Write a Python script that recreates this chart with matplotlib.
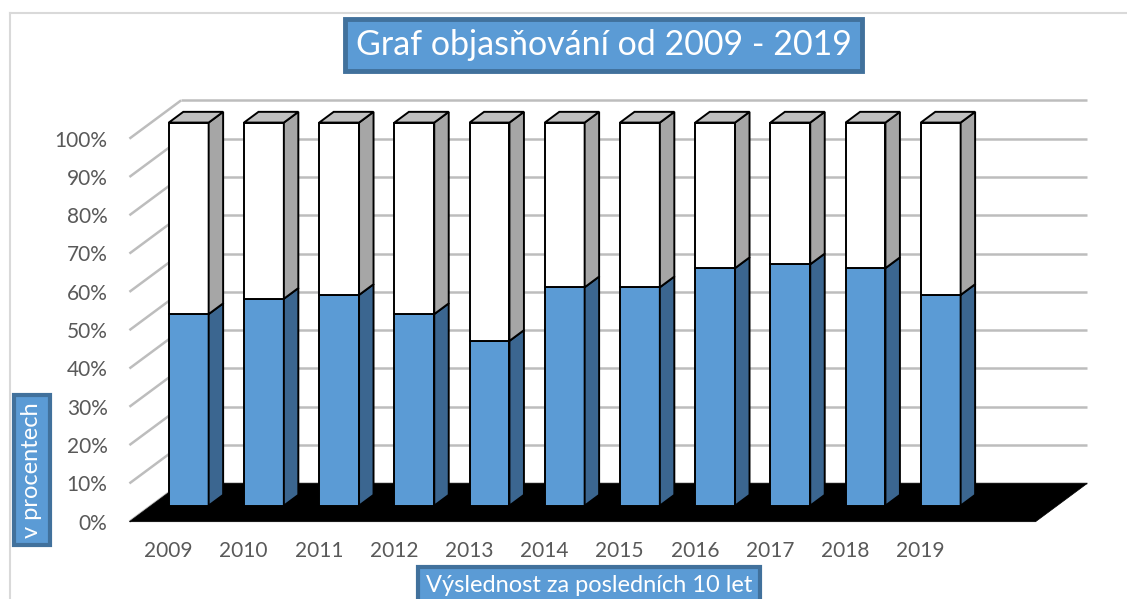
import matplotlib
matplotlib.use("Agg")
import matplotlib.pyplot as plt
from matplotlib.patches import Polygon
from matplotlib.lines import Line2D

# ---- data ----
years = ["2009", "2010", "2011", "2012", "2013", "2014", "2015", "2016", "2017", "2018", "2019"]
solved = [50, 54, 55, 50, 43, 57, 57, 62, 63, 62, 55]          # blue share (%)
unsolved = [100 - s for s in solved]                            # white share (%)
yticks = [0, 10, 20, 30, 40, 50, 60, 70, 80, 90, 100]
ytick_labels = [f"{t}%" for t in yticks]
title = "Graf objasňování od 2009 - 2019"
xlabel = "Výslednost za posledních 10 let"
ylabel = "v procentech"

# ---- style ----
FONT = ["Lato", "DejaVu Sans"]
BLUE, BLUE_SIDE = "#5b9bd5", "#3b6690"
WHITE, GRAY_SIDE, GRAY_TOP = "#ffffff", "#a6a6a6", "#c0c0c0"
GRID = "#bdbdbd"
TXT = "#595959"
BOX_EDGE = "#41719c"

# oblique projection parameters (in data units)
DX, DY = 0.6875, 10.0       # full depth offset (slots, percent)
D0, D1 = 0.42, 0.70         # bar depth range
BW = 0.53                   # bar width in slots
X0, X1 = -0.5, 11.55        # floor extent in slots

def P(i, v, d):
    return (i + d * DX, v + d * DY)

fig = plt.figure(figsize=(11.27, 5.99), dpi=100)
ax = fig.add_axes([0, 0, 1, 1])
ax.set_xlim(-2.221, 12.766)
ax.set_ylim(-20.18, 136.2)
ax.axis("off")

# chart area border
fig.add_artist(Line2D([10 / 1127, 1], [1 - 13 / 599, 1 - 13 / 599], transform=fig.transFigure, color="#d9d9d9", lw=1.5))
fig.add_artist(Line2D([10 / 1127, 10 / 1127], [0, 1 - 13 / 599], transform=fig.transFigure, color="#d9d9d9", lw=1.5))

# back-wall gridlines and left-wall diagonals
for t in yticks:
    a, b = P(X0, t, 1), P(X1, t, 1)
    ax.plot([a[0], b[0]], [a[1], b[1]], color=GRID, lw=1.8, zorder=1, solid_capstyle="butt")
    c, e = P(X0, t, 0), P(X0, t, 1)
    ax.plot([c[0], e[0]], [c[1], e[1]], color=GRID, lw=1.8, zorder=1, solid_capstyle="butt")

# floor
ax.add_patch(Polygon([P(X0, 0, 0), P(X1, 0, 0), P(X1, 0, 1), P(X0, 0, 1)],
                     closed=True, fc="black", ec="black", lw=0.5, zorder=2))

# bars
def box(i, v0, v1, front, side, top=None):
    l, r = i - BW / 2, i + BW / 2
    kw = dict(closed=True, ec="black", lw=1.4, joinstyle="miter", zorder=3)
    ax.add_patch(Polygon([P(l, v0, D0), P(r, v0, D0), P(r, v1, D0), P(l, v1, D0)], fc=front, **kw))
    ax.add_patch(Polygon([P(r, v0, D0), P(r, v0, D1), P(r, v1, D1), P(r, v1, D0)], fc=side, **kw))
    if top is not None:
        ax.add_patch(Polygon([P(l, v1, D0), P(r, v1, D0), P(r, v1, D1), P(l, v1, D1)], fc=top, **kw))

for i, (s, u) in enumerate(zip(solved, unsolved)):
    box(i, 0, s, BLUE, BLUE_SIDE)
    box(i, s, s + u, WHITE, GRAY_SIDE, GRAY_TOP)

# y tick labels
for t, lab in zip(yticks, ytick_labels):
    ax.text(X0 - 0.29, t - 0.5, lab, ha="right", va="center", fontsize=15,
            color=TXT, family=FONT)

# x tick labels
for i, y in enumerate(years):
    ax.text(i + 0.02, -7.7, y, ha="center", va="center", fontsize=15,
            color=TXT, family=FONT)

# title
fig.text(603.5 / 1127, 1 - 45 / 599, title, ha="center", va="center", fontsize=24.5,
         color="white", family=FONT,
         bbox=dict(boxstyle="square,pad=0.3", fc=BLUE, ec=BOX_EDGE, lw=3.5))

# axis titles
fig.text(32 / 1127, 1 - 470 / 599, ylabel, ha="center", va="center", rotation=90,
         fontsize=17, color="white", family=FONT,
         bbox=dict(boxstyle="square,pad=0.3", fc=BLUE, ec=BOX_EDGE, lw=3))
fig.text(589 / 1127, 1 - 586 / 599, xlabel, ha="center", va="center",
         fontsize=17, color="white", family=FONT,
         bbox=dict(boxstyle="square,pad=0.35", fc=BLUE, ec=BOX_EDGE, lw=3))

fig.savefig("out.png", dpi=100)
